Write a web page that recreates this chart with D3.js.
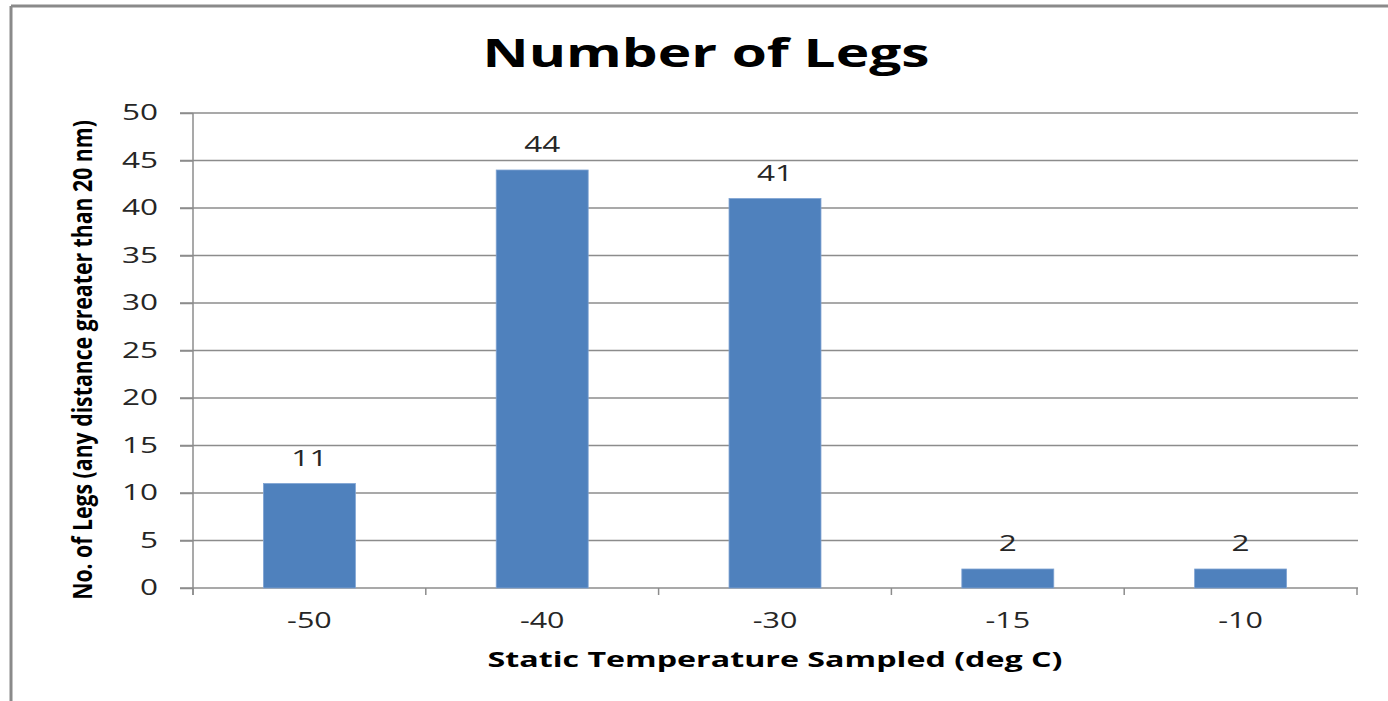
<!DOCTYPE html>
<html>
<head>
<meta charset="utf-8">
<script src="https://cdn.jsdelivr.net/npm/d3@7"></script>
<style>
  html, body { margin: 0; padding: 0; background: #fff; }
  svg { display: block; }
  text { font-family: "Open Sans", "DejaVu Sans", sans-serif; }
</style>
</head>
<body>
<svg id="chart" width="1388" height="701"></svg>
<script>
// Number of legs flown at each sampled static temperature
const categories = ["-50", "-40", "-30", "-15", "-10"];
const legCounts = [11, 44, 41, 2, 2];
const yTicks = [0, 5, 10, 15, 20, 25, 30, 35, 40, 45, 50];

const titleText = "Number of Legs";
const xTitleText = "Static Temperature Sampled (deg C)";
const yTitleText = "No. of Legs (any distance greater than 20 nm)";

const svg = d3.select("#chart");
const W = 1388, H = 701;
const plot = { left: 193, right: 1357, top: 113, bottom: 588 };
const gridColor = "#8c8c8c";
const textColor = "#262626";
const barColor = "#4F81BD";

// Chart frame (top and left edges visible)
svg.append("line").attr("x1", 11).attr("x2", W).attr("y1", 6).attr("y2", 6)
  .attr("stroke", "#8a8a8a").attr("stroke-width", 3);
svg.append("line").attr("x1", 11).attr("x2", 11).attr("y1", 6).attr("y2", H)
  .attr("stroke", "#8a8a8a").attr("stroke-width", 3);

const x = d3.scaleBand()
  .domain(categories)
  .range([plot.left, plot.right])
  .paddingInner(0.605)
  .paddingOuter(0.3025);

const y = d3.scaleLinear().domain([0, 50]).range([plot.bottom, plot.top]);

// Stretch a text element horizontally by a factor
function stretch(sel, k) {
  sel.each(function () {
    const len = this.getComputedTextLength();
    d3.select(this).attr("textLength", len * k).attr("lengthAdjust", "spacingAndGlyphs");
  });
}

// Gridlines
svg.append("g")
  .selectAll("line")
  .data(yTicks)
  .join("line")
  .attr("x1", plot.left - 13)
  .attr("x2", plot.right + 1)
  .attr("y1", d => y(d))
  .attr("y2", d => y(d))
  .attr("stroke", gridColor)
  .attr("stroke-width", 1.5);

// Y axis
const yAxis = svg.append("g")
  .attr("transform", `translate(${plot.left},0)`)
  .call(d3.axisLeft(y).tickValues(yTicks).tickSize(13).tickPadding(22));
yAxis.select(".domain").remove();
yAxis.append("line")
  .attr("x1", 0).attr("x2", 0)
  .attr("y1", plot.top).attr("y2", plot.bottom + 7)
  .attr("stroke", gridColor).attr("stroke-width", 1.5);
yAxis.selectAll(".tick line").attr("stroke", gridColor).attr("stroke-width", 1.5);
yAxis.selectAll(".tick text")
  .attr("fill", textColor)
  .style("font-size", "21px")
  .call(stretch, 1.5);

// X axis: labels centred in bands, ticks on band boundaries
const xAxis = svg.append("g")
  .attr("transform", `translate(0,${plot.bottom})`)
  .call(d3.axisBottom(x).tickSize(0).tickPadding(25));
xAxis.select(".domain").remove();
xAxis.selectAll(".tick text")
  .attr("fill", textColor)
  .style("font-size", "21px")
  .call(stretch, 1.45);

const step = x.step();
const x0 = plot.left;
xAxis.append("g")
  .selectAll("line")
  .data(d3.range(categories.length + 1))
  .join("line")
  .attr("x1", i => x0 + i * step)
  .attr("x2", i => x0 + i * step)
  .attr("y1", 0).attr("y2", 7)
  .attr("stroke", gridColor).attr("stroke-width", 1.5);

// Bars
svg.append("g")
  .selectAll("rect")
  .data(legCounts)
  .join("rect")
  .attr("x", (d, i) => x(categories[i]))
  .attr("width", x.bandwidth())
  .attr("y", d => y(d))
  .attr("height", d => y(0) - y(d))
  .attr("fill", barColor)
  .attr("stroke", "#7fa3d3")
  .attr("stroke-width", 0.8);

// Value labels
svg.append("g")
  .selectAll("text")
  .data(legCounts)
  .join("text")
  .attr("x", (d, i) => x(categories[i]) + x.bandwidth() / 2)
  .attr("y", d => y(d) - 18)
  .attr("text-anchor", "middle")
  .attr("fill", textColor)
  .style("font-size", "21px")
  .text(d => d)
  .call(stretch, 1.5);

// Chart title
svg.append("text")
  .attr("x", 706).attr("y", 67)
  .attr("text-anchor", "middle")
  .attr("fill", "#000")
  .style("font-size", "40px").style("font-weight", "700")
  .attr("textLength", 447).attr("lengthAdjust", "spacingAndGlyphs")
  .text(titleText);

// X axis title
svg.append("text")
  .attr("x", 775).attr("y", 667)
  .attr("text-anchor", "middle")
  .attr("fill", "#000")
  .style("font-size", "22px").style("font-weight", "700")
  .attr("textLength", 575).attr("lengthAdjust", "spacingAndGlyphs")
  .text(xTitleText);

// Y axis title: rotated, squeezed along its length to fit the axis height
const yTitleLength = 480;
const yTitle = svg.append("text")
  .attr("text-anchor", "middle")
  .attr("fill", "#000")
  .style("font-size", "27px").style("font-weight", "700")
  .text(yTitleText);
const naturalLen = yTitle.node().getComputedTextLength();
yTitle.attr("transform",
  `translate(92,360) rotate(-90) scale(${yTitleLength / naturalLen},1)`);
</script>
</body>
</html>
